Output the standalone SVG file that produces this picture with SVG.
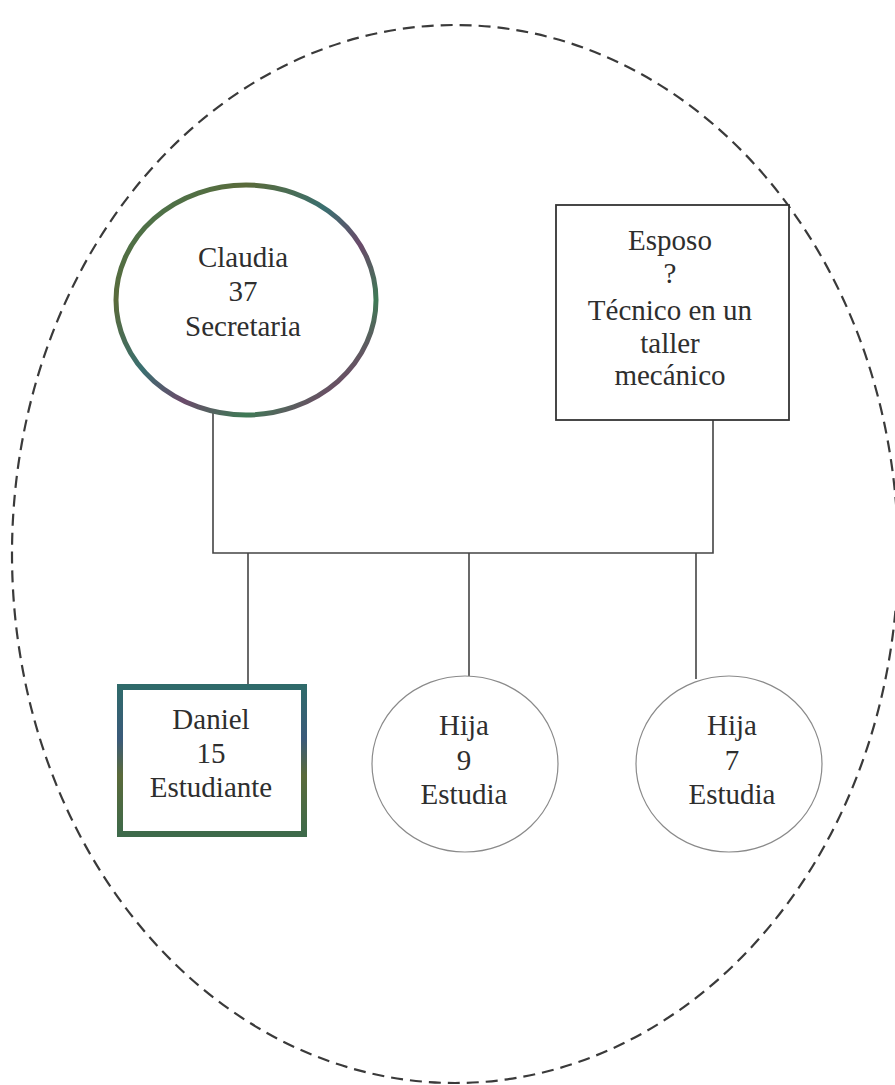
<svg xmlns="http://www.w3.org/2000/svg" width="895" height="1085" viewBox="0 0 895 1085">
<defs>
<linearGradient id="ringGrad" x1="0" y1="0" x2="1" y2="1">
<stop offset="0" stop-color="#3f7a5a"/>
<stop offset="0.25" stop-color="#5a6a3a"/>
<stop offset="0.45" stop-color="#3a6f70"/>
<stop offset="0.6" stop-color="#6a4a6a"/>
<stop offset="0.75" stop-color="#3e7a55"/>
<stop offset="0.9" stop-color="#7a3f6a"/>
<stop offset="1" stop-color="#4a6a4a"/>
</linearGradient>
<linearGradient id="boxGrad" x1="0" y1="0" x2="0" y2="1">
<stop offset="0" stop-color="#2f6a6a"/>
<stop offset="0.35" stop-color="#3a5a7a"/>
<stop offset="0.6" stop-color="#5a6a3a"/>
<stop offset="1" stop-color="#3e6a4a"/>
</linearGradient>
</defs>
<style>
.lbl{font-family:"Liberation Serif","Times New Roman",serif;font-size:29px;fill:#2e2e2e;text-anchor:middle}
.conn{stroke:#444;stroke-width:1.6;fill:none}
.thin{fill:#fff;stroke:#8a8a8a;stroke-width:1.2}
</style>
<rect width="895" height="1085" fill="#fff"/>
<g id="household">
<ellipse cx="455" cy="554" rx="443" ry="529" fill="none" stroke="#3a3a3a" stroke-width="2.2" stroke-dasharray="12 7"/>
</g>
<g id="connectors">
<path class="conn" d="M213 411 V553 H713 V420"/>
<path class="conn" d="M248 553 V684"/>
<path class="conn" d="M469 553 V676"/>
<path class="conn" d="M696 553 V679"/>
</g>
<g id="claudia">
<ellipse cx="246" cy="300" rx="130" ry="115" fill="#fff" stroke="url(#ringGrad)" stroke-width="5"/>
<text class="lbl" x="243" y="267">Claudia</text>
<text class="lbl" x="243" y="301">37</text>
<text class="lbl" x="243" y="336">Secretaria</text>
</g>
<g id="esposo">
<rect x="556" y="205" width="233" height="215" fill="#fff" stroke="#333" stroke-width="1.8"/>
<text class="lbl" x="670" y="250">Esposo</text>
<text class="lbl" x="670" y="283">?</text>
<text class="lbl" x="670" y="320">Técnico en un</text>
<text class="lbl" x="670" y="353">taller</text>
<text class="lbl" x="670" y="385">mecánico</text>
</g>
<g id="daniel">
<rect x="120" y="687" width="184" height="147" fill="#fff" stroke="url(#boxGrad)" stroke-width="6"/>
<text class="lbl" x="211" y="729">Daniel</text>
<text class="lbl" x="211" y="763">15</text>
<text class="lbl" x="211" y="797">Estudiante</text>
</g>
<g id="hija9">
<ellipse class="thin" cx="465" cy="764" rx="93" ry="88"/>
<text class="lbl" x="464" y="735">Hija</text>
<text class="lbl" x="464" y="770">9</text>
<text class="lbl" x="464" y="804">Estudia</text>
</g>
<g id="hija7">
<ellipse class="thin" cx="729" cy="764" rx="93" ry="88"/>
<text class="lbl" x="732" y="735">Hija</text>
<text class="lbl" x="732" y="770">7</text>
<text class="lbl" x="732" y="804">Estudia</text>
</g>
</svg>
